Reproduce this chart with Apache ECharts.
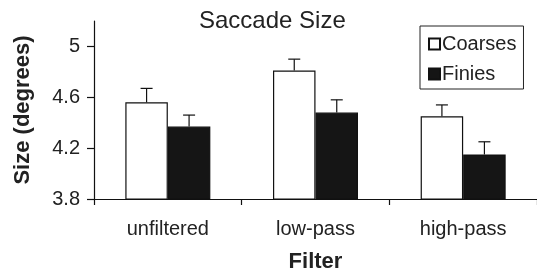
<!DOCTYPE html>
<html>
<head>
<meta charset="utf-8">
<script src="https://cdn.jsdelivr.net/npm/echarts@6/dist/echarts.min.js"></script>
<style>
html,body{margin:0;padding:0;background:#fff;}
#chart{width:537px;height:278px;}
</style>
</head>
<body>
<div id="chart"></div>
<script>
const categories = ['unfiltered', 'low-pass', 'high-pass'];
const coarses = [4.56, 4.81, 4.45];
const coarsesErr = [0.11, 0.09, 0.09];
const finies = [4.37, 4.48, 4.15];
const finiesErr = [0.09, 0.10, 0.10];
const yTicks = [3.8, 4.2, 4.6, 5];

const FONT = '"Liberation Sans", Arial, Helvetica, sans-serif';
const TXT = '#222';
const BW = 42.5;

function errSeries(vals, errs, side) {
  return {
    type: 'custom',
    z: 5,
    silent: true,
    data: vals.map((v, i) => [i, v, errs[i]]),
    renderItem: function (params, api) {
      const i = api.value(0);
      const v = api.value(1);
      const e = api.value(2);
      const p0 = api.coord([i, v]);
      const p1 = api.coord([i, v + e]);
      const x = p0[0] + side * BW / 2;
      const cap = 6;
      return {
        type: 'group',
        children: [
          {type: 'line', shape: {x1: x, y1: p0[1], x2: x, y2: p1[1]}, style: {stroke: '#111', lineWidth: 1.2}},
          {type: 'line', shape: {x1: x - cap, y1: p1[1], x2: x + cap, y2: p1[1]}, style: {stroke: '#111', lineWidth: 1.2}}
        ]
      };
    }
  };
}

const chart = echarts.init(document.getElementById('chart'), null, {renderer: 'canvas'});
chart.setOption({
  animation: false,
  backgroundColor: '#fff',
  textStyle: {fontFamily: FONT},
  title: {
    text: 'Saccade Size',
    left: 199,
    top: 9,
    padding: 0,
    textStyle: {fontFamily: FONT, fontSize: 24, fontWeight: 'normal', color: TXT}
  },
  legend: {
    orient: 'vertical',
    left: 420,
    top: 26,
    padding: [8, 7, 5, 8],
    itemGap: 10,
    itemWidth: 11,
    itemHeight: 11,
    icon: 'rect',
    borderColor: '#222',
    borderWidth: 1,
    textStyle: {fontFamily: FONT, fontSize: 20, color: TXT, padding: [0, 0, 0, -3]},
    data: ['Coarses', 'Finies']
  },
  grid: {left: 94, right: -4, top: 21, bottom: 76, containLabel: false},
  xAxis: {
    type: 'category',
    data: categories,
    name: 'Filter',
    nameLocation: 'middle',
    nameGap: 52,
    nameTextStyle: {fontFamily: FONT, fontSize: 22, fontWeight: 'bold', color: TXT},
    axisLine: {lineStyle: {color: '#111', width: 1.2}},
    axisTick: {show: true, length: 6, lineStyle: {color: '#111', width: 1.2}},
    axisLabel: {fontFamily: FONT, fontSize: 20, color: TXT, margin: 20}
  },
  yAxis: {
    type: 'value',
    min: 3.8,
    max: 5.2,
    name: 'Size (degrees)',
    nameLocation: 'middle',
    nameGap: 60,
    nameTextStyle: {fontFamily: FONT, fontSize: 22, fontWeight: 'bold', color: TXT},
    axisLine: {show: true, lineStyle: {color: '#111', width: 1.2}},
    axisTick: {show: true, length: 7, customValues: yTicks, lineStyle: {color: '#111', width: 1.2}},
    axisLabel: {fontFamily: FONT, fontSize: 20, color: TXT, margin: 14, customValues: yTicks,
      formatter: v => String(Math.round(v * 10) / 10)},
    splitLine: {show: false}
  },
  series: [
    {
      name: 'Coarses', type: 'bar', data: coarses, barWidth: BW, barGap: '0%',
      itemStyle: {color: '#fff', borderColor: '#111', borderWidth: 1.2}
    },
    {
      name: 'Finies', type: 'bar', data: finies, barWidth: BW, barGap: '0%',
      itemStyle: {color: '#151515', borderColor: '#111', borderWidth: 1.2}
    },
    errSeries(coarses, coarsesErr, -1),
    errSeries(finies, finiesErr, 1)
  ]
});
</script>
</body>
</html>
